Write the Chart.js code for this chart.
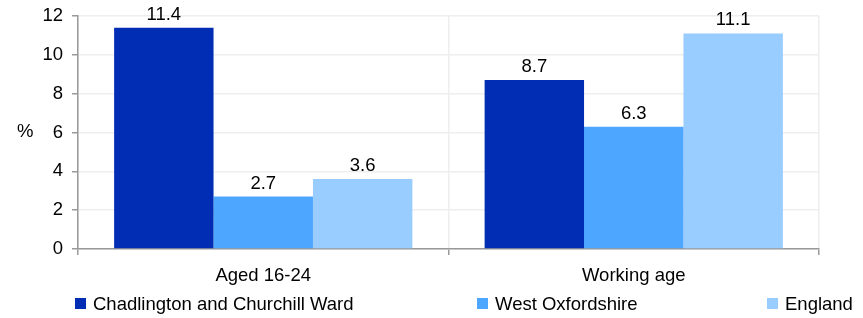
<!DOCTYPE html>
<html>
<head>
<meta charset="utf-8">
<script src="https://cdn.jsdelivr.net/npm/chart.js@4/dist/chart.umd.min.js"></script>
<style>
  body { margin: 0; background: #fff; font-family: "Liberation Sans", Arial, sans-serif; }
  #wrap { position: relative; width: 863px; height: 318px; }
  #yTitle { position: absolute; left: 17px; top: 120px; font-size: 18.5px; color: #000; }
  .leg { position: absolute; top: 293px; font-size: 18.5px; color: #000; white-space: nowrap; }
  .leg span { display: inline-block; width: 11px; height: 11px; margin-right: 7px; vertical-align: 1px; }
</style>
</head>
<body>
<div id="wrap">
  <canvas id="chart" width="863" height="318"></canvas>
  <div id="yTitle">%</div>
  <div id="legend"></div>
</div>
<script>
const categories = ['Aged 16-24', 'Working age'];
const seriesNames = ['Chadlington and Churchill Ward', 'West Oxfordshire', 'England'];
const chadlington = [11.4, 8.7];
const westOxfordshire = [2.7, 6.3];
const england = [3.6, 11.1];
const colors = ['#002db3', '#4da6ff', '#99ccff'];
const yTicks = [0, 2, 4, 6, 8, 10, 12];

const legendLeft = [75, 477, 767];
const fontFamily = '"Liberation Sans", Arial, sans-serif';

const legendEl = document.getElementById('legend');
seriesNames.forEach((name, i) => {
    const d = document.createElement('div');
    d.className = 'leg';
    d.style.left = legendLeft[i] + 'px';
    d.innerHTML = `<span style="background:${colors[i]}"></span>${name}`;
    legendEl.appendChild(d);
});

const valueLabels = {
    id: 'valueLabels',
    afterDatasetsDraw(chart) {
        const ctx = chart.ctx;
        ctx.save();
        ctx.font = '18.5px ' + fontFamily;
        ctx.fillStyle = '#000';
        ctx.textAlign = 'center';
        ctx.textBaseline = 'alphabetic';
        chart.data.datasets.forEach((ds, i) => {
            chart.getDatasetMeta(i).data.forEach((bar, j) => {
                ctx.fillText(ds.data[j].toFixed(1), bar.x, bar.y - 8);
            });
        });
        ctx.restore();
    }
};

const ctx = document.getElementById('chart').getContext('2d');
new Chart(ctx, {
    type: 'bar',
    data: {
        labels: categories,
        datasets: [
            { label: seriesNames[0], data: chadlington, backgroundColor: colors[0] },
            { label: seriesNames[1], data: westOxfordshire, backgroundColor: colors[1] },
            { label: seriesNames[2], data: england, backgroundColor: colors[2] }
        ]
    },
    options: {
        responsive: false,
        animation: false,
        datasets: { bar: { categoryPercentage: 0.805, barPercentage: 1 } },
        layout: { padding: { top: 16, right: 44, bottom: 0, left: 0 } },
        scales: {
            x: {
                grid: { color: '#eeeeee', lineWidth: 1.5, tickColor: '#999', tickLength: 6, offset: true },
                border: { color: '#999', width: 1.5 },
                ticks: { color: '#000', font: { family: fontFamily, size: 18.5 }, padding: 10 },
                afterFit: (s) => { s.height = 69; s.paddingLeft = 0; s.paddingRight = 0; }
            },
            y: {
                min: 0, max: 12,
                afterBuildTicks: (s) => { s.ticks = yTicks.map(v => ({ value: v })); },
                grid: { color: '#eeeeee', lineWidth: 1.5, tickColor: '#999', tickLength: 6 },
                border: { color: '#999', width: 1.5 },
                ticks: { color: '#000', font: { family: fontFamily, size: 18.5 }, padding: 9 },
                afterFit: (s) => { s.width = 78; s.paddingTop = 0; s.paddingBottom = 0; }
            }
        },
        plugins: {
            legend: { display: false },
            tooltip: { enabled: false }
        }
    },
    plugins: [valueLabels]
});
</script>
</body>
</html>
